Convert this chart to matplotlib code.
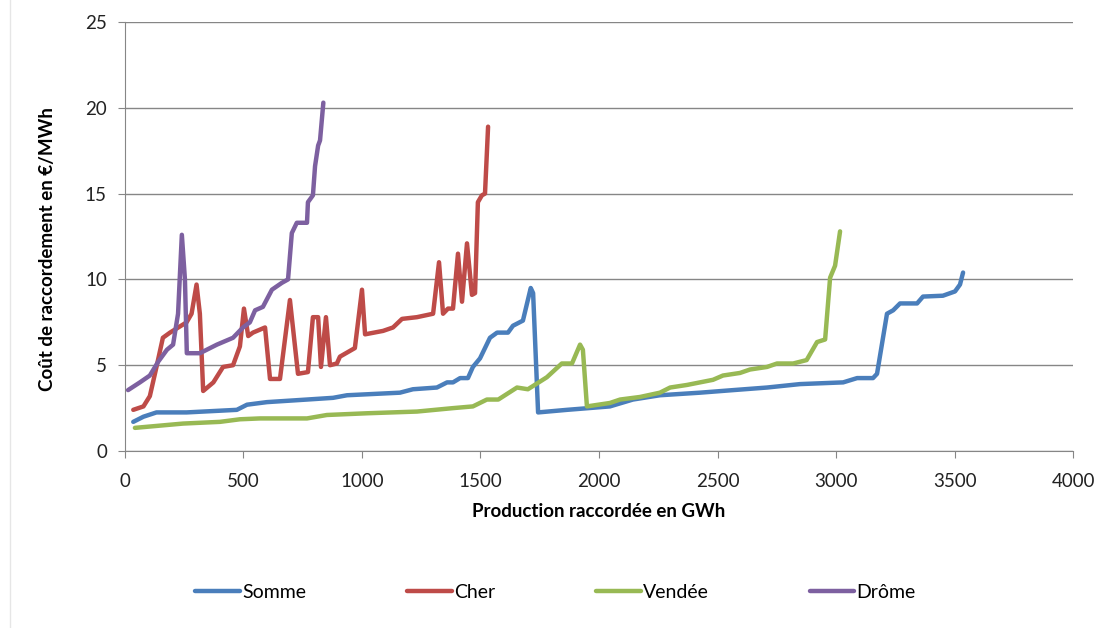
import matplotlib
matplotlib.use("Agg")
import matplotlib.pyplot as plt
from matplotlib.lines import Line2D

# Somme
somme_x = [35, 78, 133, 260, 472, 515, 599, 768, 878, 937, 1160, 1215, 1316, 1359,
           1384, 1414, 1447, 1468, 1498, 1540, 1570, 1616, 1637, 1679, 1712, 1722,
           1743, 1865, 2046, 2143, 2257, 2426, 2566, 2709, 2848, 3030, 3089, 3156,
           3173, 3215, 3241, 3270, 3342, 3367, 3451, 3502, 3523, 3536]
somme_y = [1.7, 2.0, 2.25, 2.25, 2.4, 2.7, 2.85, 3.0, 3.1, 3.25, 3.4, 3.6, 3.7, 4.0,
           4.0, 4.25, 4.25, 4.9, 5.4, 6.6, 6.9, 6.9, 7.3, 7.6, 9.5, 9.2,
           2.25, 2.4, 2.6, 3.0, 3.25, 3.4, 3.55, 3.7, 3.9, 4.0, 4.25, 4.25,
           4.5, 8.0, 8.2, 8.6, 8.6, 9.0, 9.05, 9.3, 9.7, 10.4]

# Cher
cher_x = [35, 78, 105, 133, 160, 190, 260, 281, 302, 316, 330, 373, 414, 456, 485,
          502, 520, 540, 591, 612, 654, 696, 730, 772, 793, 815, 827, 848, 865, 894,
          907, 970, 1000, 1013, 1089, 1131, 1169, 1232, 1300, 1325, 1342, 1363, 1384,
          1405, 1422, 1443, 1464, 1477, 1489, 1506, 1519, 1532]
cher_y = [2.4, 2.6, 3.2, 4.9, 6.6, 6.9, 7.5, 8.0, 9.7, 8.0, 3.5, 4.0, 4.9, 5.0, 6.1,
          8.3, 6.7, 6.9, 7.2, 4.2, 4.2, 8.8, 4.5, 4.6, 7.8, 7.8, 4.9, 7.8, 5.0, 5.1,
          5.5, 6.0, 9.4, 6.8, 7.0, 7.2, 7.7, 7.8, 8.0, 11.0, 8.0, 8.3, 8.3,
          11.5, 8.7, 12.1, 9.1, 9.2, 14.5, 14.9, 15.0, 18.9]

# Vendée
vendee_x = [42, 245, 401, 485, 570, 768, 852, 1021, 1232, 1384, 1468, 1527, 1575,
            1654, 1700, 1780, 1843, 1886, 1920, 1932, 1949, 2046, 2089, 2173, 2257,
            2300, 2371, 2481, 2523, 2595, 2637, 2709, 2751, 2819, 2876, 2920, 2954,
            2975, 2996, 3017]
vendee_y = [1.35, 1.6, 1.7, 1.85, 1.9, 1.9, 2.1, 2.2, 2.3, 2.5, 2.6, 3.0, 3.0,
            3.7, 3.6, 4.3, 5.1, 5.1, 6.2, 5.9, 2.6, 2.8, 3.0, 3.15, 3.4,
            3.7, 3.85, 4.15, 4.4, 4.55, 4.75, 4.9, 5.1, 5.1, 5.3, 6.35, 6.5,
            10.1, 10.8, 12.8]

# Drôme
drome_x = [13, 63, 105, 140, 177, 203, 224, 240, 253, 261, 316, 388, 456, 498, 527,
           549, 582, 620, 662, 688, 704, 725, 768, 772, 793, 802, 815, 823, 837]
drome_y = [3.55, 4.0, 4.4, 5.2, 5.9, 6.2, 8.0, 12.6, 10.0, 5.7, 5.7, 6.2, 6.6, 7.2, 7.5,
           8.2, 8.4, 9.4, 9.8, 10.0, 12.7, 13.3, 13.3, 14.5, 14.9, 16.6, 17.8, 18.1, 20.3]

series = [
    ("Somme", somme_x, somme_y, "#4A7EBB"),
    ("Cher", cher_x, cher_y, "#BE4B48"),
    ("Vendée", vendee_x, vendee_y, "#98B954"),
    ("Drôme", drome_x, drome_y, "#7D60A0"),
]

plt.rcParams["font.family"] = ["Lato", "DejaVu Sans"]

fig = plt.figure(figsize=(11, 6.28), dpi=100)
ax = fig.add_axes([0.1136, 0.2818, 0.8619, 0.6832])

for name, x, y, color in series:
    ax.plot(x, y, color=color, linewidth=3.2, label=name, solid_capstyle="round",
            solid_joinstyle="round")

ax.set_xlim(0, 4000)
ax.set_ylim(0, 25)
ax.set_xticks(range(0, 4001, 500))
ax.set_yticks(range(0, 26, 5))
ax.tick_params(axis="both", labelsize=13.5, color="#868686", length=5,
               direction="out", labelcolor="#222222")
ax.tick_params(axis="x", pad=11)
ax.tick_params(axis="y", pad=8)
ax.yaxis.grid(True, color="#868686", linewidth=1)
ax.set_axisbelow(True)
for s in ["top", "right"]:
    ax.spines[s].set_visible(False)
for s in ["left", "bottom"]:
    ax.spines[s].set_color("#868686")

ax.set_xlabel("Production raccordée en GWh", fontsize=13.5, fontweight="bold",
              labelpad=9)
ax.set_ylabel("Coût de raccordement en €/MWh", fontsize=13.5, fontweight="bold")
ax.yaxis.set_label_coords(-0.073, 0.47)

fig.legend(loc="center", bbox_to_anchor=(0.505, 0.057), ncol=4, frameon=False,
           fontsize=14, handlelength=2.3, handletextpad=0.1, columnspacing=5.2)

fig.add_artist(Line2D([0.009, 0.009], [0.0, 1.0], color="#e6e6e6", linewidth=1))

fig.savefig("out.png", dpi=100)
